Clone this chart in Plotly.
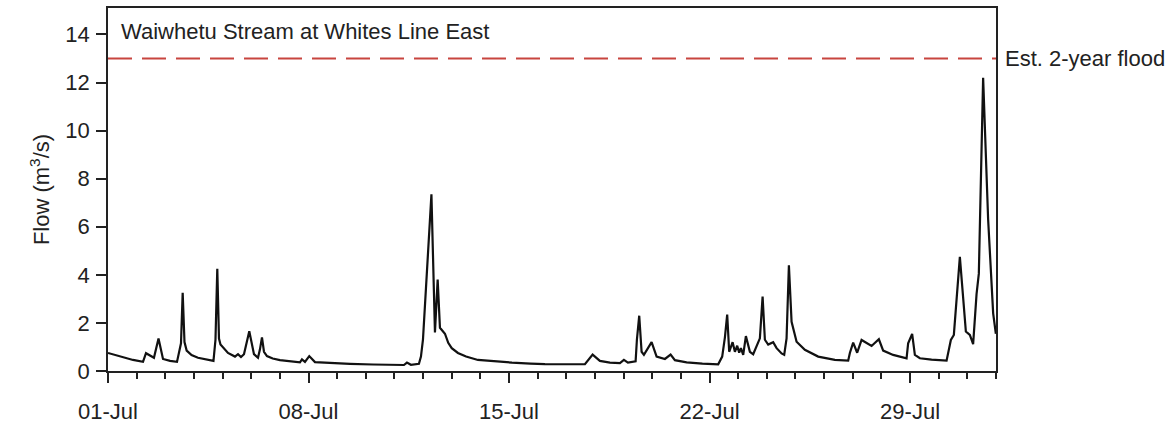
import plotly.graph_objects as go

# Flow series (time, m3/s)
times = [
    "2022-07-01 00:00", "2022-07-01 10:00", "2022-07-01 21:00", "2022-07-02 05:20", "2022-07-02 07:50",
    "2022-07-02 14:30", "2022-07-02 18:19", "2022-07-02 22:05", "2022-07-03 04:00", "2022-07-03 09:48",
    "2022-07-03 11:28", "2022-07-03 13:09", "2022-07-03 14:34", "2022-07-03 16:05", "2022-07-03 17:55",
    "2022-07-03 22:00", "2022-07-04 03:23", "2022-07-04 15:07", "2022-07-04 16:22", "2022-07-04 18:03",
    "2022-07-04 19:34", "2022-07-04 20:59", "2022-07-04 22:14", "2022-07-05 04:31", "2022-07-05 10:23",
    "2022-07-05 12:55", "2022-07-05 15:25", "2022-07-05 17:56", "2022-07-05 22:22", "2022-07-06 02:18",
    "2022-07-06 05:40", "2022-07-06 07:19", "2022-07-06 09:00", "2022-07-06 10:41", "2022-07-06 13:11",
    "2022-07-06 18:00", "2022-07-07 00:05", "2022-07-07 16:50", "2022-07-07 18:31", "2022-07-07 21:01",
    "2022-07-08 00:37", "2022-07-08 05:24", "2022-07-08 18:00", "2022-07-09 10:44", "2022-07-10 06:00",
    "2022-07-11 04:36", "2022-07-11 07:58", "2022-07-11 10:28", "2022-07-11 13:49", "2022-07-11 20:31",
    "2022-07-11 22:12", "2022-07-11 23:53", "2022-07-12 06:59", "2022-07-12 09:56", "2022-07-12 12:12",
    "2022-07-12 14:07", "2022-07-12 18:19", "2022-07-12 21:04", "2022-07-13 00:00", "2022-07-13 05:11",
    "2022-07-13 12:00", "2022-07-13 21:56", "2022-07-14 10:00", "2022-07-15 02:25", "2022-07-15 18:00",
    "2022-07-16 06:04", "2022-07-17 15:35", "2022-07-17 22:02", "2022-07-18 04:09", "2022-07-18 12:32",
    "2022-07-18 20:54", "2022-07-19 00:15", "2022-07-19 03:36", "2022-07-19 10:03", "2022-07-19 11:08",
    "2022-07-19 13:05", "2022-07-19 15:04", "2022-07-19 17:01", "2022-07-19 23:27", "2022-07-20 03:39",
    "2022-07-20 10:36", "2022-07-20 15:22", "2022-07-20 18:58", "2022-07-21 04:47", "2022-07-21 18:00",
    "2022-07-22 07:15", "2022-07-22 10:36", "2022-07-22 12:52", "2022-07-22 14:47", "2022-07-22 16:28",
    "2022-07-22 19:19", "2022-07-22 21:15", "2022-07-22 23:10", "2022-07-23 00:50", "2022-07-23 02:16",
    "2022-07-23 04:12", "2022-07-23 06:27", "2022-07-23 09:48", "2022-07-23 12:34", "2022-07-23 16:45",
    "2022-07-23 18:10", "2022-07-23 20:27", "2022-07-23 22:22", "2022-07-24 01:08", "2022-07-24 05:19",
    "2022-07-24 08:10", "2022-07-24 12:21", "2022-07-24 14:33", "2022-07-24 16:32", "2022-07-24 18:29",
    "2022-07-24 20:44", "2022-07-25 00:55", "2022-07-25 07:52", "2022-07-25 19:01", "2022-07-26 03:00",
    "2022-07-26 09:00", "2022-07-26 20:09", "2022-07-26 21:34", "2022-07-27 00:20", "2022-07-27 03:41",
    "2022-07-27 07:22", "2022-07-27 11:34", "2022-07-27 15:45", "2022-07-27 21:52", "2022-07-28 01:28",
    "2022-07-28 09:50", "2022-07-28 21:04", "2022-07-28 22:24", "2022-07-29 01:45", "2022-07-29 04:02",
    "2022-07-29 08:13", "2022-07-29 18:00", "2022-07-30 06:35", "2022-07-30 10:11", "2022-07-30 12:41",
    "2022-07-30 17:43", "2022-07-30 22:45", "2022-07-31 02:05", "2022-07-31 04:51", "2022-07-31 07:42",
    "2022-07-31 09:37", "2022-07-31 13:13", "2022-07-31 17:25", "2022-07-31 21:37", "2022-07-31 23:53",
]
flow = [
    0.75, 0.60, 0.46, 0.38, 0.74,
    0.55, 1.35, 0.50, 0.42, 0.38,
    0.75, 1.15, 3.25, 1.20, 0.85,
    0.66, 0.55, 0.42, 0.42, 1.30,
    4.25, 1.35, 1.10, 0.75, 0.60,
    0.70, 0.58, 0.70, 1.65, 0.70,
    0.55, 0.90, 1.40, 0.80, 0.62,
    0.52, 0.45, 0.36, 0.48, 0.38,
    0.62, 0.37, 0.33, 0.30, 0.27,
    0.25, 0.25, 0.35, 0.26, 0.30,
    0.60, 1.30, 7.35, 1.60, 3.80,
    1.80, 1.55, 1.17, 0.95, 0.75,
    0.60, 0.46, 0.40, 0.35, 0.31,
    0.29, 0.28, 0.68, 0.42, 0.35,
    0.33, 0.46, 0.35, 0.40, 1.30,
    2.30, 0.80, 0.67, 1.20, 0.60,
    0.50, 0.68, 0.45, 0.36, 0.31,
    0.28, 0.60, 1.40, 2.35, 0.80,
    1.20, 0.80, 1.05, 0.76, 0.95,
    0.67, 1.45, 0.80, 0.70, 1.20,
    1.36, 3.10, 1.30, 1.10, 1.20,
    0.95, 0.73, 0.67, 1.36, 4.40,
    2.05, 1.22, 0.88, 0.60, 0.51,
    0.46, 0.43, 0.75, 1.18, 0.76,
    1.29, 1.15, 1.04, 1.32, 0.85,
    0.67, 0.53, 1.15, 1.54, 0.67,
    0.53, 0.47, 0.43, 1.29, 1.50,
    4.75, 1.64, 1.50, 1.12, 3.20,
    4.05, 12.20, 6.30, 2.40, 1.55,
]

flood_level = 13.0
flood_label = "Est. 2-year flood"
site_title = "Waiwhetu Stream at Whites Line East"
x_start = "2022-07-01"
x_end = "2022-08-01"

FONT = "Liberation Sans, Arial, sans-serif"

fig = go.Figure()
fig.add_trace(go.Scatter(
    x=times, y=flow, mode="lines",
    line=dict(color="#111111", width=2.2),
    showlegend=False, hoverinfo="x+y",
))
fig.add_trace(go.Scatter(
    x=[x_start, x_end], y=[flood_level, flood_level], mode="lines",
    line=dict(color="#c8453f", width=2, dash="24px,10px"),
    showlegend=False, hoverinfo="skip",
))

fig.update_layout(
    width=1173, height=428,
    margin=dict(l=108, r=177, t=8, b=57, autoexpand=False),
    paper_bgcolor="white", plot_bgcolor="white",
    font=dict(family=FONT, size=22, color="#222222"),
    xaxis=dict(
        type="date", range=[x_start, x_end], automargin=False,
        tick0=x_start, dtick=7 * 86400000, tickformat="%d-%b",
        ticks="outside", ticklen=10, tickwidth=1.5, tickcolor="#222222",
        minor=dict(dtick=86400000, ticks="outside", ticklen=6, tickwidth=1.5, tickcolor="#222222"),
        showline=True, linecolor="#222222", linewidth=1.5, mirror=True,
        showgrid=False, zeroline=False,
        tickfont=dict(size=22), ticklabelstandoff=10,
    ),
    yaxis=dict(
        range=[0, 15.1], tick0=0, dtick=2, automargin=False,
        ticks="outside", ticklen=10, tickwidth=1.5, tickcolor="#222222",
        showline=True, linecolor="#222222", linewidth=1.5, mirror=True,
        showgrid=False, zeroline=False,
        tickfont=dict(size=22), ticklabelstandoff=2,
    ),
    annotations=[
        dict(text=site_title, xref="paper", yref="paper", x=0.012, y=0.935,
             xanchor="left", yanchor="middle", showarrow=False, font=dict(size=22)),
        dict(text=flood_label, xref="paper", yref="y", x=1.008, y=flood_level,
             xanchor="left", yanchor="middle", showarrow=False, font=dict(size=22)),
        dict(text="Flow (m<sup>3</sup>/s)", xref="paper", yref="paper", x=-0.077, y=0.5,
             xanchor="center", yanchor="middle", showarrow=False, textangle=-90,
             font=dict(size=22)),
    ],
)

fig.write_html("out.html", config={"displayModeBar": False},
               post_script="document.body.style.margin='0';")
